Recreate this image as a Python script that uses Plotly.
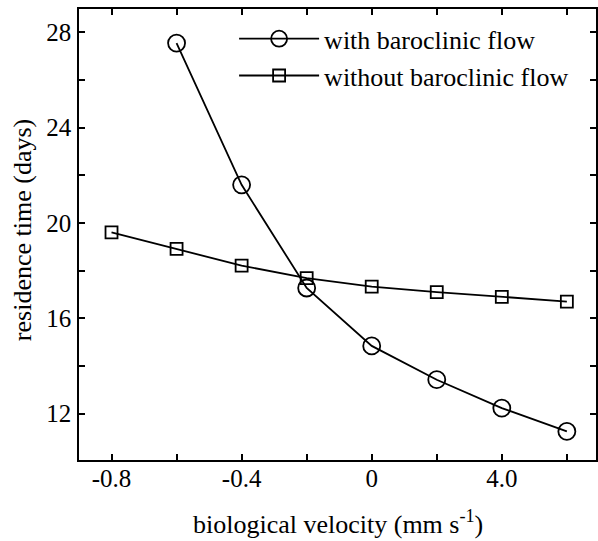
import plotly.graph_objects as go

# biological velocity (mm s^-1) at each model run
velocity = [-0.8, -0.6, -0.4, -0.2, 0.0, 0.2, 0.4, 0.6]

# residence time (days)
with_baroclinic = [None, 27.55, 21.6, 17.27, 14.84, 13.42, 12.23, 11.25]
without_baroclinic = [19.6, 18.91, 18.21, 17.68, 17.33, 17.1, 16.9, 16.7]

# axis ticks (labels only on every other tick)
x_tickvals = [-0.8, -0.6, -0.4, -0.2, 0.0, 0.2, 0.4, 0.6]
x_ticktext = ["-0.8", "", "-0.4", "", "0", "", "4.0", ""]
y_tickvals = [12, 14, 16, 18, 20, 22, 24, 26, 28]
y_ticktext = ["12", "", "16", "", "20", "", "24", "", "28"]

x_title = "biological velocity (mm s<sup>-1</sup>)"
y_title = "residence time (days)"

FONT = "Liberation Serif"
INK = "black"

fig = go.Figure()
fig.add_trace(go.Scatter(
    x=velocity, y=with_baroclinic, name="with baroclinic flow",
    mode="lines+markers",
    line=dict(color=INK, width=1.8),
    marker=dict(symbol="circle-open", size=17, color=INK, line=dict(width=1.8)),
))
fig.add_trace(go.Scatter(
    x=velocity, y=without_baroclinic, name="without baroclinic flow",
    mode="lines+markers",
    line=dict(color=INK, width=1.8),
    marker=dict(symbol="square-open", size=12, color=INK, line=dict(width=1.8)),
))

axis_common = dict(
    showline=True, linecolor=INK, linewidth=1.5, mirror="ticks",
    ticks="inside", ticklen=6, tickwidth=1.5, tickcolor=INK,
    showgrid=False, zeroline=False,
    tickfont=dict(family=FONT, size=25, color=INK),
)

fig.update_layout(
    width=598, height=541,
    margin=dict(l=79, r=0, t=9, b=81),
    paper_bgcolor="white", plot_bgcolor="white",
    font=dict(family=FONT, size=26, color=INK),
    xaxis=dict(
        range=[-0.9, 0.6896],
        tickmode="array", tickvals=x_tickvals, ticktext=x_ticktext,
        ticklabelstandoff=-5,
        **axis_common,
    ),
    yaxis=dict(
        range=[10.05, 28.98],
        tickmode="array", tickvals=y_tickvals, ticktext=y_ticktext,
        ticklabelstandoff=1,
        **axis_common,
    ),
    legend=dict(
        x=0.30, y=0.986, xanchor="left", yanchor="top",
        bgcolor="rgba(0,0,0,0)", borderwidth=0,
        font=dict(family=FONT, size=26, color=INK),
        itemwidth=80, tracegroupgap=0,
    ),
    showlegend=True,
)

# axis titles placed as paper-anchored annotations
fig.add_annotation(
    text=x_title, xref="paper", yref="paper", x=0.5, y=0,
    xanchor="center", yanchor="top", yshift=-44, showarrow=False,
    font=dict(family=FONT, size=26, color=INK),
)
fig.add_annotation(
    text=y_title, xref="paper", yref="paper", x=-0.108, y=0.51,
    xanchor="center", yanchor="middle", textangle=-90, showarrow=False,
    font=dict(family=FONT, size=26, color=INK),
)

fig.write_html("out.html")
